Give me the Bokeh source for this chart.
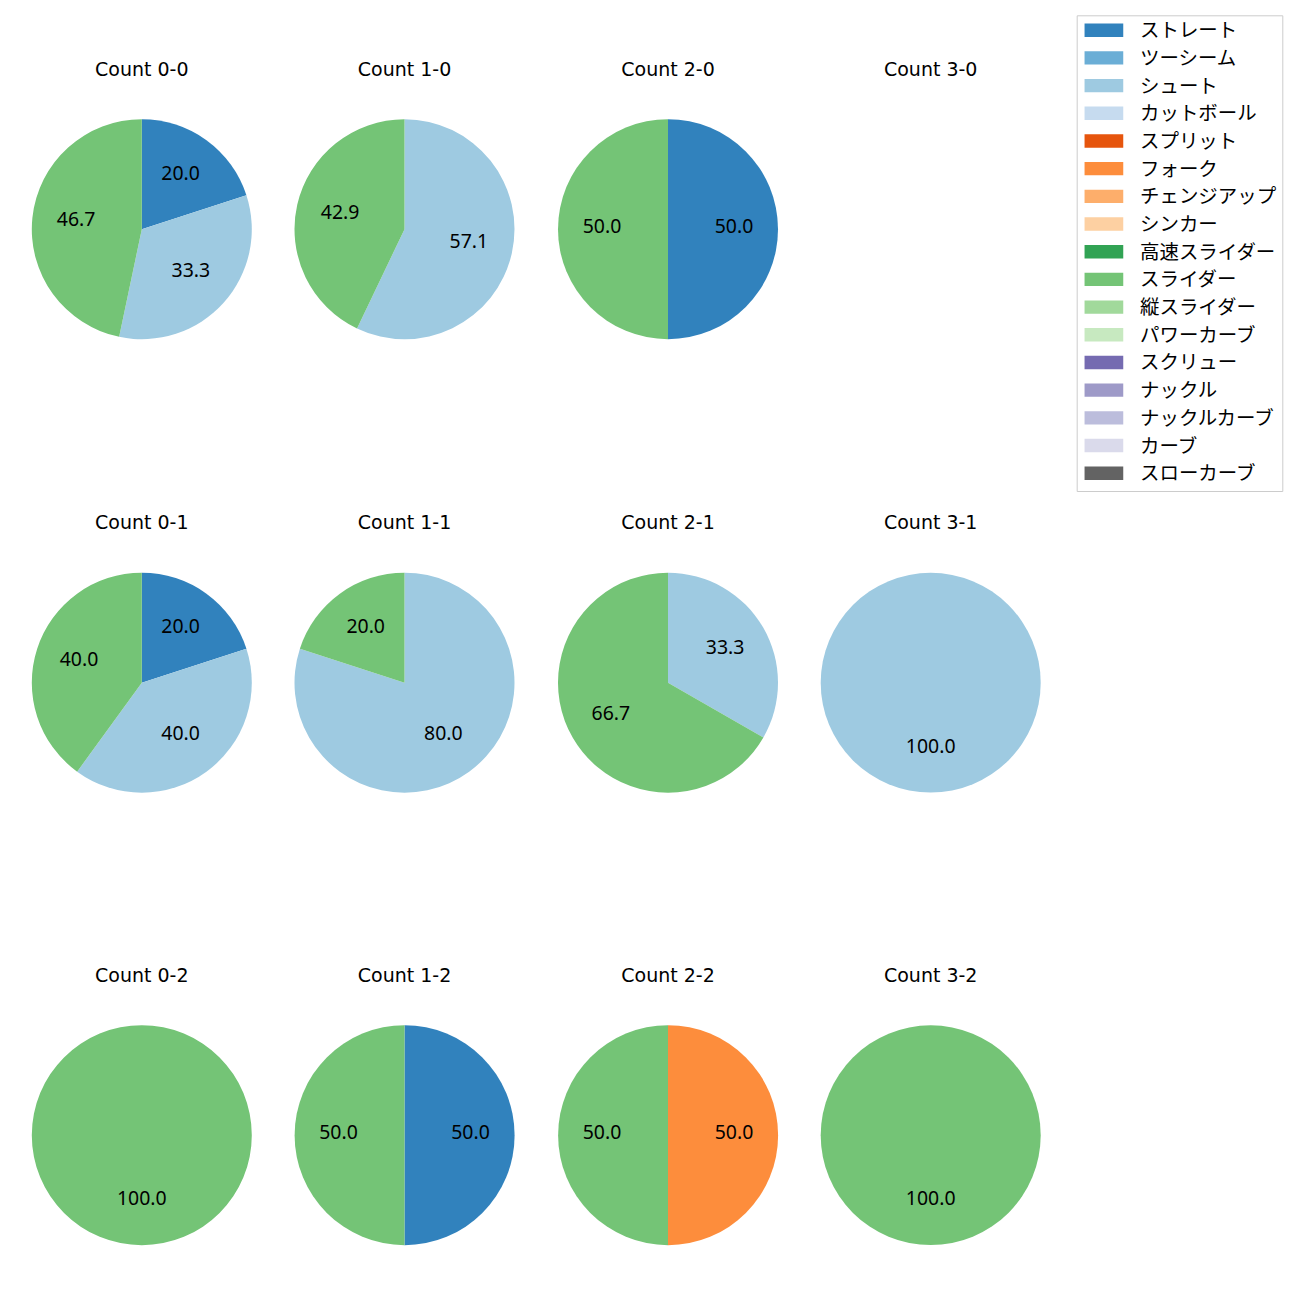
import math
from bokeh.plotting import figure
from bokeh.models import Range1d, ColumnDataSource
from bokeh.core.properties import value
from bokeh.embed import file_html
from bokeh.resources import INLINE

# ---- data ----
count_labels = ["0-0", "1-0", "2-0", "3-0",
                "0-1", "1-1", "2-1", "3-1",
                "0-2", "1-2", "2-2", "3-2"]

pitch_types = ["ストレート", "ツーシーム", "シュート", "カットボール", "スプリット", "フォーク",
               "チェンジアップ", "シンカー", "高速スライダー", "スライダー", "縦スライダー",
               "パワーカーブ", "スクリュー", "ナックル", "ナックルカーブ", "カーブ", "スローカーブ"]

pitch_colors = ["#3182bd", "#6baed6", "#9ecae1", "#c6dbef", "#e6550d", "#fd8d3c",
                "#fdae6b", "#fdd0a2", "#31a354", "#74c476", "#a1d99b", "#c7e9c0",
                "#756bb1", "#9e9ac8", "#bcbddc", "#dadaeb", "#636363"]

# percentage per count (order of count_labels)
pct_straight = [20.0, 0, 50.0, 0, 20.0, 0, 0, 0, 0, 50.0, 0, 0]
pct_shoot    = [33.3, 57.1, 0, 0, 40.0, 80.0, 33.3, 100.0, 0, 0, 0, 0]
pct_fork     = [0, 0, 0, 0, 0, 0, 0, 0, 0, 0, 50.0, 0]
pct_slider   = [46.7, 42.9, 50.0, 0, 40.0, 20.0, 66.7, 0, 100.0, 50.0, 50.0, 100.0]
pct_zero     = [0] * 12

pitch_pcts = {
    "ストレート": pct_straight,
    "シュート": pct_shoot,
    "フォーク": pct_fork,
    "スライダー": pct_slider,
}

# ---- layout (page pixel coordinates, y measured from top) ----
W = H = 1300
col_x = [141.3, 404.0, 667.5, 930.2]
row_y = [228.7, 682.2, 1134.7]
R = 110.0
JP_FONT = "Noto Sans CJK JP"
NUM_FONT = "Noto Sans"
TITLE_FONT = "DejaVu Sans"
FS = "19.44px"


def yd(ypix):
    return H - ypix


p = figure(width=W, height=H, x_range=Range1d(0, W), y_range=Range1d(0, H),
           x_axis_type=None, y_axis_type=None, output_backend="svg",
           toolbar_location=None, min_border=0)
p.outline_line_color = None
p.background_fill_color = "white"

wx, wy, ws, we, wc = [], [], [], [], []
fx, fy, fc = [], [], []
lab_x, lab_y, lab_t = [], [], []
for k, cl in enumerate(count_labels):
    cx = col_x[k % 4]
    cy = yd(row_y[k // 4])
    vals = [pitch_pcts.get(name, pct_zero)[k] for name in pitch_types]
    total = sum(vals)
    if total <= 0:
        continue
    ang = 90.0
    for name, color, v in zip(pitch_types, pitch_colors, vals):
        if v <= 0:
            continue
        sweep = v / total * 360.0
        if sweep >= 359.99:
            fx.append(cx); fy.append(cy); fc.append(color)
        else:
            wx.append(cx); wy.append(cy); wc.append(color)
            ws.append(math.radians(ang - sweep)); we.append(math.radians(ang))
        mid = math.radians(ang - sweep / 2)
        lab_x.append(cx + 0.6 * R * math.cos(mid))
        lab_y.append(cy + 0.6 * R * math.sin(mid))
        lab_t.append(f"{v:.1f}")
        ang -= sweep

p.wedge(x="x", y="y", radius=R, start_angle="s", end_angle="e", direction="anticlock",
        fill_color="c", line_color=None,
        source=ColumnDataSource(dict(x=wx, y=wy, s=ws, e=we, c=wc)))
p.circle(x="x", y="y", radius=R, fill_color="c", line_color=None,
         source=ColumnDataSource(dict(x=fx, y=fy, c=fc)))

# percentage labels
p.text(x=lab_x, y=lab_y, text=lab_t, text_align="center", text_baseline="middle",
       y_offset=-3, text_font=value(NUM_FONT), text_font_size=FS, text_color="black")

# subplot titles
tx = [col_x[k % 4] for k in range(12)]
ty = [yd(row_y[k // 4] - 160.3) for k in range(12)]
tt = [f"Count {c}" for c in count_labels]
p.text(x=tx, y=ty, text=tt, text_align="center", text_baseline="middle",
       text_font=value(TITLE_FONT), text_font_size="19px", text_color="black")

# legend (drawn from pitch_types / pitch_colors)
LG_L, LG_R, LG_T, LG_B = 1076.7, 1282.3, 15.3, 491.0
ROW0, ROWSTEP = 29.7, 27.69
p.quad(left=[LG_L], right=[LG_R], top=[yd(LG_T)], bottom=[yd(LG_B)],
       fill_color="white", fill_alpha=0.8, line_color="#cccccc", line_width=1)
ly = [yd(ROW0 + ROWSTEP * i) for i in range(len(pitch_types))]
p.rect(x=[1103.4] * len(pitch_types), y=ly, width=38.7, height=13.4,
       fill_color=pitch_colors, line_color=None)
p.text(x=[1139.5] * len(pitch_types), y=ly, text=pitch_types, text_align="left",
       text_baseline="middle", y_offset=-1.5, text_font=value(JP_FONT), text_font_size=FS,
       text_color="black")

open("out.html", "w").write(file_html(p, INLINE))
